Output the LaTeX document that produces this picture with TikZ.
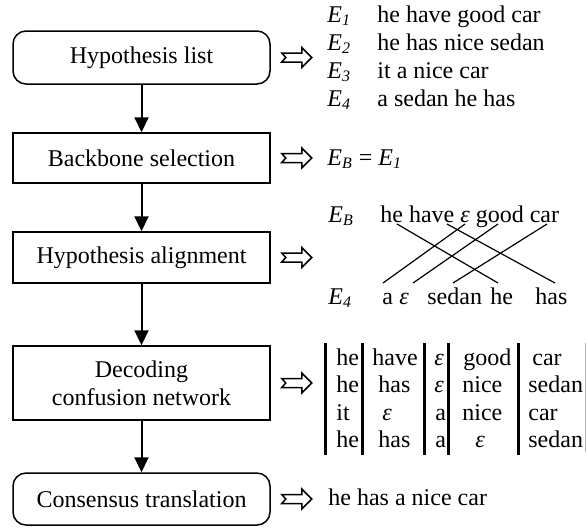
\documentclass[tikz,border=0pt]{standalone}
\usepackage{fontspec}
\setmainfont{Liberation Serif}
\usetikzlibrary{arrows.meta}
\newcommand{\Esub}[1]{\textit{E}\textsubscript{\textit{#1}}}
\newcommand{\eps}{\textit{ε}}
\tikzset{
  harrow/.pic={\draw[line width=0.75pt, line join=miter, fill=white]
     (0,-4.5) -- (4,0) -- (0,4.5) -- (20,4.5) -- (20,10) -- (30,0) -- (20,-10) -- (20,-4.5) -- cycle;}
}
\begin{document}
\begin{tikzpicture}[x=0.5pt,y=-0.5pt,
  every node/.style={font=\fontsize{12}{14}\selectfont},
  stepbox/.style={draw, line width=0.75pt, minimum width=128.5pt, inner sep=0pt, align=center},
  roundbox/.style={stepbox, rounded corners=6.5pt},
  flow/.style={line width=1pt, -{Triangle[width=7pt,length=7.5pt]}},
  txt/.style={anchor=base west, inner sep=0pt},
  bar/.style={line width=1.5pt},
  align line/.style={line width=0.6pt}]
\useasboundingbox (0,0) rectangle (587,527);

% flow boxes
\node[roundbox, minimum height=26.5pt] (hl) at (141.5,57.5) {Hypothesis list};
\node[stepbox, minimum height=25pt] (bs) at (141.5,158) {Backbone selection};
\node[stepbox, minimum height=25.5pt] (ha) at (141.5,257.5) {Hypothesis alignment};
\node[stepbox, minimum height=37pt] (dc) at (141.5,383) {Decoding\\confusion network};
\node[roundbox, minimum height=26pt] (ct) at (141.5,499) {Consensus translation};

\draw[flow] (hl) -- (bs);
\draw[flow] (bs) -- (ha);
\draw[flow] (ha) -- (dc);
\draw[flow] (dc) -- (ct);

% hollow arrows
\pic at ([xshift=5.5pt]hl.east) {harrow};
\pic at ([xshift=5.5pt]bs.east) {harrow};
\pic at ([xshift=5.5pt]ha.east) {harrow};
\pic at ([xshift=5.5pt]dc.east) {harrow};
\pic at ([xshift=5.5pt]ct.east) {harrow};

% hypothesis list
\node[txt] (e1) at (327,22) {\Esub{1}};
\node[txt] (h1) at (377,22) {he have good car};
\node[txt] (e2) at (327,50) {\Esub{2}};
\node[txt] (h2) at (377,50) {he has nice sedan};
\node[txt] (e3) at (327,78) {\Esub{3}};
\node[txt] (h3) at (377,78) {it a nice car};
\node[txt] (e4) at (327,106) {\Esub{4}};
\node[txt] (h4) at (377,106) {a sedan he has};

% backbone
\node[txt] (eb) at (327,165) {\Esub{B} = \Esub{1}};

% alignment
\node[txt] (ebl) at (328,222) {\Esub{B}};
\node[txt] (ebt) at (380,222) {he have \eps{} good car};
\node[txt] (e4l) at (328,304) {\Esub{4}};
\node[txt] (w1) at (382,304) {a};
\node[txt] (w2) at (399,304) {\eps};
\node[txt] (w3) at (427,304) {sedan};
\node[txt] (w4) at (490,304) {he};
\node[txt] (w5) at (535,304) {has};
\draw[align line] (397,224) -- (498,283);
\draw[align line] (447,224) -- (555,283);
\draw[align line] (465,224) -- (383,283);
\draw[align line] (498,224) -- (413,283);
\draw[align line] (547,224) -- (453,283);

% confusion network
\foreach \x in {325,362,424,448,518} \draw[bar] (\x,343) -- (\x,455);
\draw[line width=0.3pt, gray!60] (585,343) -- (585,452);
\node[txt] (c11) at (336,365) {he};
\node[txt] (c12) at (372,365) {have};
\node[txt] (c13) at (434,365) {\eps};
\node[txt] (c14) at (463,365) {good};
\node[txt] (c15) at (532,365) {car};
\node[txt] (c21) at (336,392.5) {he};
\node[txt] (c22) at (378,392.5) {has};
\node[txt] (c23) at (434,392.5) {\eps};
\node[txt] (c24) at (462,392.5) {nice};
\node[txt] (c25) at (528,392.5) {sedan};
\node[txt] (c31) at (336,420) {it};
\node[txt] (c32) at (382,420) {\eps};
\node[txt] (c33) at (435,420) {a};
\node[txt] (c34) at (462,420) {nice};
\node[txt] (c35) at (528,420) {car};
\node[txt] (c41) at (336,447.5) {he};
\node[txt] (c42) at (378,447.5) {has};
\node[txt] (c43) at (435,447.5) {a};
\node[txt] (c44) at (475,447.5) {\eps};
\node[txt] (c45) at (528,447.5) {sedan};

% consensus
\node[txt] (res) at (328,505) {he has a nice car};
\end{tikzpicture}
\end{document}
